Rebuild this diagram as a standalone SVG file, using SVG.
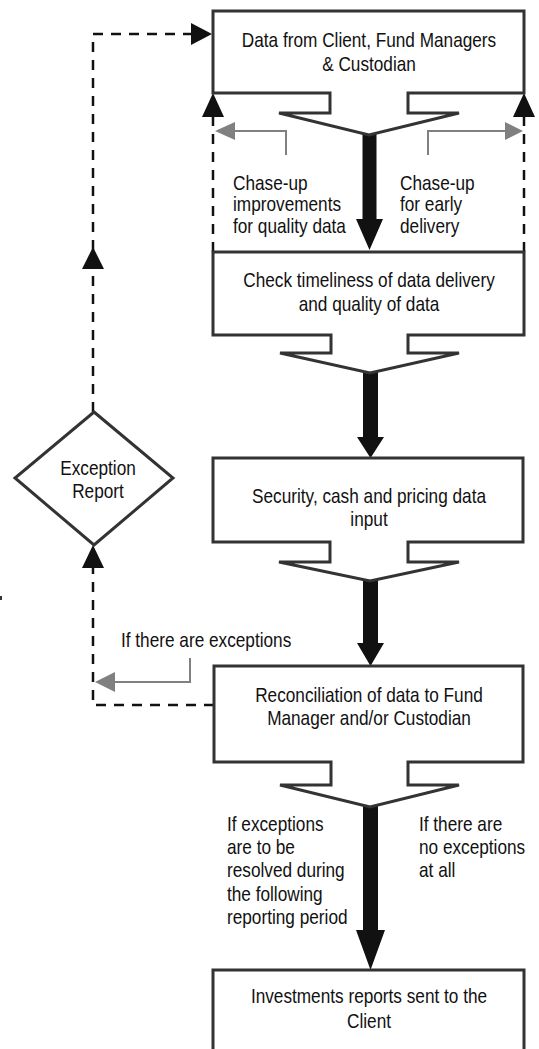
<svg xmlns="http://www.w3.org/2000/svg" width="539" height="1049" viewBox="0 0 539 1049">
<style>
.box{fill:#fff;stroke:#333;stroke-width:3;stroke-linejoin:miter}
.t{font-family:'Liberation Sans',Arial,sans-serif;font-size:21px;fill:#111}
.c{text-anchor:middle}
.dash{fill:none;stroke:#111;stroke-width:2.5;stroke-dasharray:10 8}
.head{fill:#111}
.grey{fill:none;stroke:#808080;stroke-width:2}
.ghead{fill:#808080}
.thick{fill:#111}
</style>
<rect width="539" height="1049" fill="#fff"/>
<g id="connectors">
<path class="dash" d="M214,705 H93 V568"/>
<polygon class="head" points="93,545 82,568 104,568"/>
<path class="dash" d="M93,412 V34 H192"/>
<polygon class="head" points="93,247 82,269 104,269"/>
<polygon class="head" points="212,34 191,23 191,45"/>
<path class="dash" d="M213,252 V117"/>
<polygon class="head" points="213,93 202,117 224,117"/>
<path class="dash" d="M524,252 V117"/>
<polygon class="head" points="524,93 513,117 535,117"/>
<path class="grey" d="M286,155 V131 H234"/>
<polygon class="ghead" points="215,131 235,122 235,140"/>
<path class="grey" d="M428,155 V131 H506"/>
<polygon class="ghead" points="523,131 505,122 505,140"/>
<path class="grey" d="M190,658 V682 H114"/>
<polygon class="ghead" points="95,682 115,672 115,692"/>
<polygon class="thick" points="362.5,134 376.5,134 376.5,219 383,219 369.5,250 356,219 362.5,219"/>
<polygon class="thick" points="363,372 378,372 378,437 384,437 370.5,458 357,437 363,437"/>
<polygon class="thick" points="363,580 378,580 378,643 384,643 370.5,666 357,643 363,643"/>
<polygon class="thick" points="363,806 378,806 378,930 385,930 370.5,970 356,930 363,930"/>
<rect x="0" y="596" width="2" height="4" fill="#333"/>
</g>
<g id="n1">
<path class="box" d="M213,11 H524 V93 H408 V113 H459 L369,135 L279,113 H330 V93 H213 Z"/>
<text class="t c" transform="translate(369 47) scale(.82 1)">Data from Client, Fund Managers</text>
<text class="t c" transform="translate(369 71) scale(.82 1)">&amp; Custodian</text>
</g>
<g id="n2">
<path class="box" d="M213,252 H524 V335 H408 V353 H459 L370,373 L280,353 H331 V335 H213 Z"/>
<text class="t c" transform="translate(369 287) scale(.82 1)">Check timeliness of data delivery</text>
<text class="t c" transform="translate(369 311) scale(.82 1)">and quality of data</text>
</g>
<g id="n3">
<path class="box" d="M213,458 H523 V542 H408 V562 H459 L370,581 L279,562 H330 V542 H213 Z"/>
<text class="t c" transform="translate(369 503) scale(.82 1)">Security, cash and pricing data</text>
<text class="t c" transform="translate(369 526) scale(.82 1)">input</text>
</g>
<g id="n4">
<path class="box" d="M214,666 H523 V762 H408 V785 H459 L370,807 L280,785 H331 V762 H214 Z"/>
<text class="t c" transform="translate(369 702) scale(.82 1)">Reconciliation of data to Fund</text>
<text class="t c" transform="translate(369 725) scale(.82 1)">Manager and/or Custodian</text>
</g>
<g id="n5">
<path class="box" d="M213,1060 V970 H524 V1060"/>
<text class="t c" transform="translate(369 1003) scale(.82 1)">Investments reports sent to the</text>
<text class="t c" transform="translate(369 1028) scale(.82 1)">Client</text>
</g>
<g id="n6">
<polygon class="box" points="94,412 173,478 94,545 15,478"/>
<text class="t c" transform="translate(98 475) scale(.82 1)">Exception</text>
<text class="t c" transform="translate(98 498) scale(.82 1)">Report</text>
</g>
<g id="labels">
<text class="t" transform="translate(233 190) scale(.82 1)">Chase-up</text>
<text class="t" transform="translate(233 211) scale(.82 1)">improvements</text>
<text class="t" transform="translate(233 233) scale(.82 1)">for quality data</text>
<text class="t" transform="translate(400 190) scale(.82 1)">Chase-up</text>
<text class="t" transform="translate(400 211) scale(.82 1)">for early</text>
<text class="t" transform="translate(400 233) scale(.82 1)">delivery</text>
<text class="t" transform="translate(121 647) scale(.82 1)">If there are exceptions</text>
<text class="t" transform="translate(227 831) scale(.82 1)">If exceptions</text>
<text class="t" transform="translate(227 854) scale(.82 1)">are to be</text>
<text class="t" transform="translate(227 877) scale(.82 1)">resolved during</text>
<text class="t" transform="translate(227 901) scale(.82 1)">the following</text>
<text class="t" transform="translate(227 924) scale(.82 1)">reporting period</text>
<text class="t" transform="translate(419 831) scale(.82 1)">If there are</text>
<text class="t" transform="translate(419 854) scale(.82 1)">no exceptions</text>
<text class="t" transform="translate(419 877) scale(.82 1)">at all</text>
</g>
</svg>
